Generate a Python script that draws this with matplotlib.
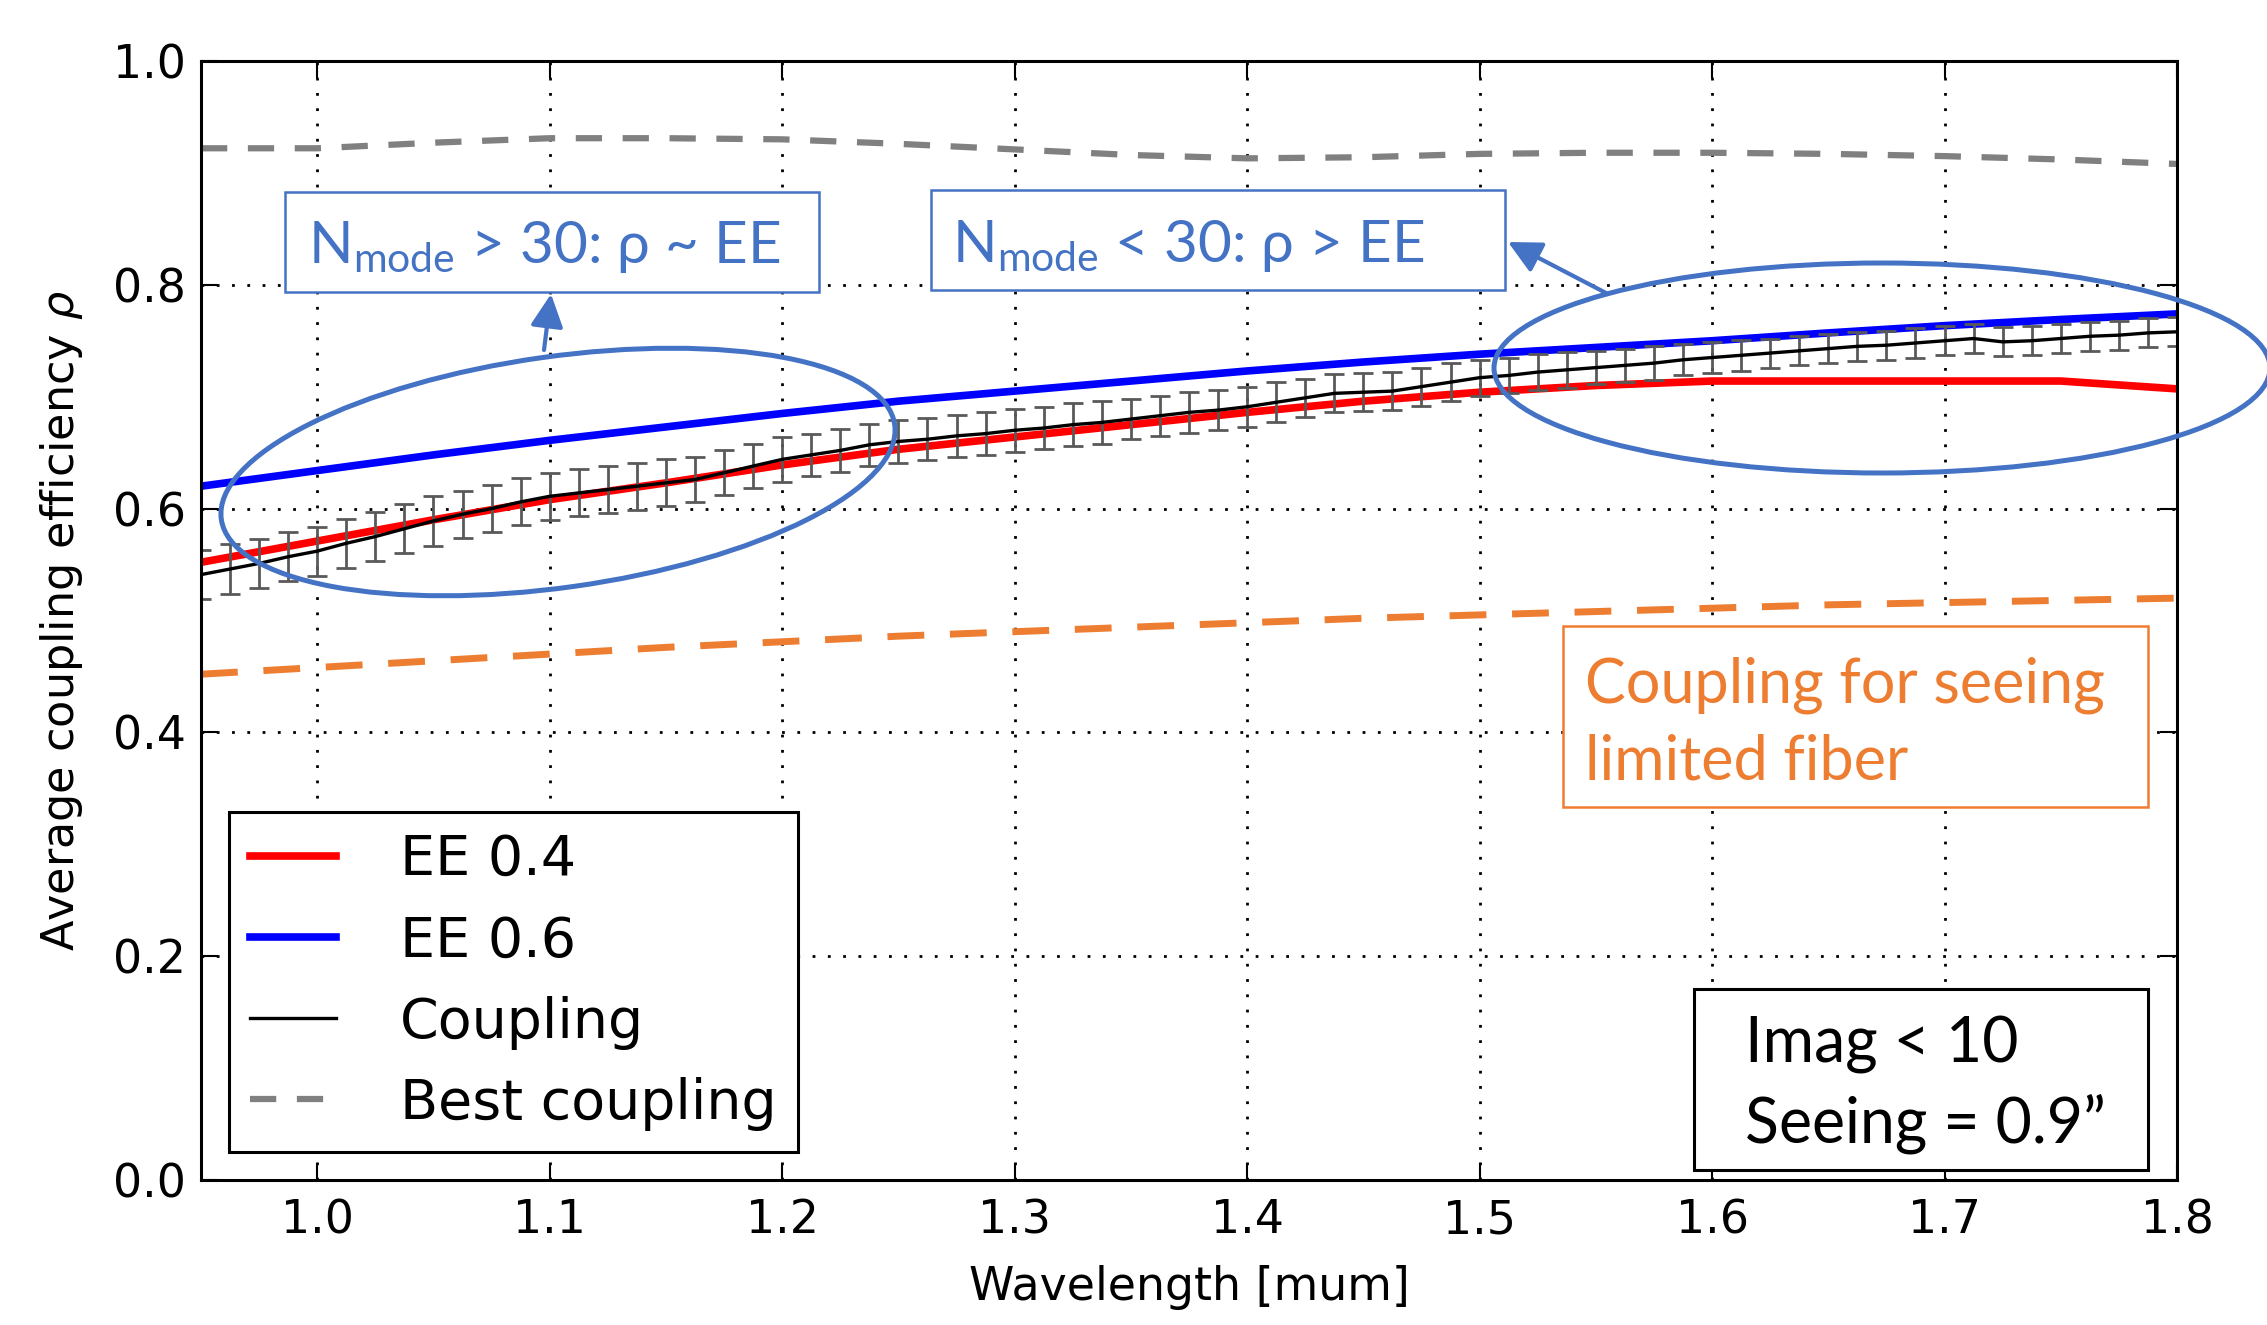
import matplotlib

matplotlib.use("Agg")
import matplotlib.pyplot as plt
from matplotlib.patches import Ellipse, Rectangle

plt.rcParams["font.family"] = "DejaVu Sans"

# smooth curves, sampled every 0.05 um
lam_ee = [0.95, 1.00, 1.05, 1.10, 1.15, 1.20, 1.25, 1.30, 1.35,
          1.40, 1.45, 1.50, 1.55, 1.60, 1.65, 1.70, 1.75, 1.80]
ee_04 = [0.552, 0.571, 0.590, 0.608, 0.623, 0.639, 0.653, 0.664, 0.675,
         0.686, 0.696, 0.704, 0.710, 0.714, 0.714, 0.714, 0.714, 0.707]
ee_06 = [0.620, 0.634, 0.648, 0.661, 0.673, 0.685, 0.696, 0.705, 0.714,
         0.723, 0.731, 0.738, 0.744, 0.750, 0.757, 0.7635, 0.769, 0.774]
best_coupling = [0.922, 0.922, 0.927, 0.931, 0.931, 0.930, 0.926, 0.921, 0.916,
                 0.913, 0.914, 0.917, 0.918, 0.918, 0.917, 0.915, 0.912, 0.908]
seeing_fiber = [0.452, 0.458, 0.464, 0.470, 0.476, 0.481, 0.486, 0.490, 0.494,
                0.498, 0.502, 0.505, 0.508, 0.511, 0.514, 0.516, 0.518, 0.520]

# simulated coupling, every 0.0125 um
lam_c = [0.95, 0.9625, 0.975, 0.9875, 1.0, 1.0125, 1.025, 1.0375, 1.05, 1.0625,
         1.075, 1.0875, 1.1, 1.1125, 1.125, 1.1375, 1.15, 1.1625, 1.175, 1.1875,
         1.2, 1.2125, 1.225, 1.2375, 1.25, 1.2625, 1.275, 1.2875, 1.3, 1.3125,
         1.325, 1.3375, 1.35, 1.3625, 1.375, 1.3875, 1.4, 1.4125, 1.425, 1.4375,
         1.45, 1.4625, 1.475, 1.4875, 1.5, 1.5125, 1.525, 1.5375, 1.55, 1.5625,
         1.575, 1.5875, 1.6, 1.6125, 1.625, 1.6375, 1.65, 1.6625, 1.675, 1.6875,
         1.7, 1.7125, 1.725, 1.7375, 1.75, 1.7625, 1.775, 1.7875, 1.8]
coupling = [0.541, 0.546, 0.551, 0.557, 0.562, 0.569, 0.575, 0.582, 0.589, 0.595,
            0.600, 0.606, 0.611, 0.614, 0.617, 0.620, 0.623, 0.626, 0.632, 0.638,
            0.644, 0.648, 0.652, 0.657, 0.660, 0.662, 0.665, 0.667, 0.670, 0.672,
            0.675, 0.677, 0.680, 0.683, 0.686, 0.688, 0.691, 0.695, 0.699, 0.703,
            0.704, 0.705, 0.709, 0.713, 0.717, 0.719, 0.722, 0.724, 0.726, 0.728,
            0.730, 0.733, 0.735, 0.737, 0.739, 0.741, 0.743, 0.745, 0.746, 0.748,
            0.750, 0.752, 0.749, 0.750, 0.752, 0.754, 0.755, 0.757, 0.758]
coupling_err = [0.022, 0.022, 0.022, 0.022, 0.022, 0.022, 0.022, 0.022, 0.022, 0.021,
                0.021, 0.021, 0.021, 0.021, 0.021, 0.021, 0.021, 0.020, 0.020, 0.020,
                0.020, 0.019, 0.019, 0.019, 0.019, 0.019, 0.019, 0.019, 0.019, 0.019,
                0.019, 0.019, 0.018, 0.018, 0.018, 0.018, 0.018, 0.018, 0.017, 0.017,
                0.017, 0.017, 0.017, 0.017, 0.016, 0.016, 0.016, 0.016, 0.015, 0.015,
                0.015, 0.014, 0.014, 0.014, 0.013, 0.013, 0.013, 0.013, 0.013, 0.013,
                0.013, 0.013, 0.013, 0.013, 0.013, 0.013, 0.013, 0.013, 0.013]

BLUE = "#4472C4"
ORANGE = "#ED7D31"
W, H = 2267, 1325

fig = plt.figure(figsize=(W / 100, H / 100), dpi=100)
ax = fig.add_axes([201 / W, 1 - 1180 / H, (2177 - 201) / W, (1180 - 61) / H])

ax.plot(lam_ee, ee_04, color="red", lw=5.5, label="EE 0.4")
ax.plot(lam_ee, ee_06, color="blue", lw=5.5, label="EE 0.6")
ax.errorbar(lam_c, coupling, yerr=coupling_err, fmt="none", ecolor="0.35",
            elinewidth=2, capsize=7, capthick=2)
ax.plot(lam_c, coupling, color="k", lw=2.4, label="Coupling")
ax.plot(lam_ee, best_coupling, color="0.5", lw=4.5, ls=(0, (4.2, 3.3)),
        label="Best coupling")
ax.plot(lam_ee, seeing_fiber, color=ORANGE, lw=5, ls=(0, (5.3, 3.7)), clip_on=False)

ax.set_xlim(0.95, 1.8)
ax.set_ylim(0, 1.0)
ax.set_xticks([1.0, 1.1, 1.2, 1.3, 1.4, 1.5, 1.6, 1.7, 1.8])
ax.set_yticks([0.0, 0.2, 0.4, 0.6, 0.8, 1.0])
ax.xaxis.set_major_formatter(plt.FormatStrFormatter("%.1f"))
ax.yaxis.set_major_formatter(plt.FormatStrFormatter("%.1f"))
ax.tick_params(direction="in", top=True, right=True, length=12, width=1.5,
               labelsize=33)
ax.tick_params(axis="x", pad=13)
ax.tick_params(axis="y", pad=11)
ax.grid(True, color="k", lw=2, ls=(0, (1, 4.5)))
for sp in ax.spines.values():
    sp.set_linewidth(2.2)

ax.set_xlabel("Wavelength [mum]", fontsize=33, labelpad=16)
ax.set_ylabel(r"Average coupling efficiency $\rho$", fontsize=32, labelpad=20)

leg = ax.legend(loc="lower left", bbox_to_anchor=(0.0142, 0.025), borderaxespad=0,
                fontsize=40, fancybox=False, edgecolor="k", framealpha=1,
                handlelength=1.55, handletextpad=1.15, labelspacing=0.49,
                borderpad=0.38)
leg.get_frame().set_linewidth(2.2)

# annotation overlay in pixel coordinates
ov = fig.add_axes([0, 0, 1, 1])
ov.set_xlim(0, W)
ov.set_ylim(H, 0)
ov.axis("off")

box_font = ["Lato", "DejaVu Sans"]
ov.add_patch(Rectangle((285, 192), 534, 100, fc="white", ec=BLUE, lw=1.8))
ov.add_patch(Rectangle((931, 190), 574, 100, fc="white", ec=BLUE, lw=1.8))
ov.text(308, 263, r"$\mathregular{N_{mode}}$ > 30: ρ ~ EE", color=BLUE,
        fontsize=42, family=box_font, va="baseline")
ov.text(952, 262, r"$\mathregular{N_{mode}}$ < 30: ρ > EE", color=BLUE,
        fontsize=42, family=box_font, va="baseline")

ov.add_patch(Ellipse((558, 472), 680, 231, angle=-8, fill=False, ec=BLUE, lw=3.6))
ov.add_patch(Ellipse((1882, 368), 776, 210, angle=0, fill=False, ec=BLUE, lw=3.6))
arrow = dict(arrowstyle="-|>", color=BLUE, lw=3, mutation_scale=50,
             shrinkA=0, shrinkB=0)
ov.annotate("", xy=(551, 294), xytext=(544, 350), arrowprops=arrow)
ov.annotate("", xy=(1508, 242), xytext=(1606, 293), arrowprops=arrow)

ov.add_patch(Rectangle((1563, 626), 585, 181, fc="white", ec=ORANGE, lw=1.8))
ov.text(1585, 702, "Coupling for seeing", color=ORANGE, fontsize=44,
        family=box_font, va="baseline")
ov.text(1585, 779, "limited fiber", color=ORANGE, fontsize=44,
        family=box_font, va="baseline")

ov.add_patch(Rectangle((1694, 989), 454, 181, fc="white", ec="k", lw=2.2))
ov.text(1745, 1063, "Imag < 10", color="k", fontsize=45, family=box_font,
        va="baseline")
ov.text(1745, 1142, "Seeing = 0.9\u201d", color="k", fontsize=45, family=box_font,
        va="baseline")

fig.savefig("out.png", dpi=100)
